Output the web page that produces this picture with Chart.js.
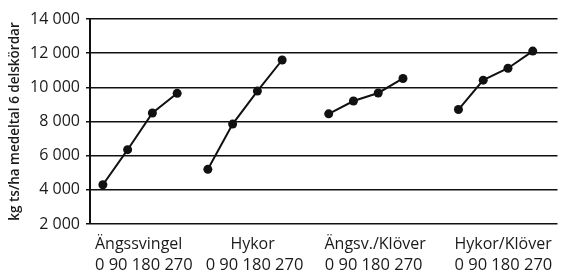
<!DOCTYPE html>
<html>
<head>
<meta charset="utf-8">
<script src="https://cdn.jsdelivr.net/npm/chart.js@4"></script>
<style>
  html, body { margin: 0; padding: 0; background: #fff; }
  #wrap { width: 562px; height: 273px; }
</style>
</head>
<body>
<div id="wrap"><canvas id="chart"></canvas></div>
<script>
// data
const categories = ['Ängssvingel', 'Hykor', 'Ängsv./Klöver', 'Hykor/Klöver'];
const doses = [0, 90, 180, 270];
const angssvingel = [4300, 6350, 8500, 9650];
const hykor = [5200, 7850, 9780, 11600];
const angsvKlover = [8450, 9200, 9670, 10520];
const hykorKlover = [8700, 10420, 11120, 12120];
const yTicks = [2000, 4000, 6000, 8000, 10000, 12000, 14000];

// layout: x in "dose steps", where each group and its labels sit
const groupStart = [0.52, 4.76, 9.64, 14.88];
const nameStart = [0.2, 5.67, 9.47, 14.72];
const doseStart = [0.2, 4.67, 9.48, 14.72];

const series = [angssvingel, hykor, angsvKlover, hykorKlover];
const font = "'Open Sans', sans-serif";

const datasets = series.map((vals, g) => ({
  label: categories[g],
  data: vals.map((v, i) => ({ x: groupStart[g] + i, y: v })),
  borderColor: '#111',
  backgroundColor: '#111',
  borderWidth: 2,
  pointRadius: 4.5,
  pointBorderWidth: 0,
  tension: 0
}));

function bottomAxis(starts, labelFn, weight, height, pad, size) {
  return {
    type: 'linear',
    position: 'bottom',
    weight,
    min: 0,
    max: 18.88,
    grid: { display: false, drawTicks: false },
    border: { display: false },
    afterBuildTicks: s => { s.ticks = starts.map(v => ({ value: v })); },
    afterFit: s => { s.paddingLeft = 0; s.paddingRight = 0; s.height = height; },
    ticks: {
      autoSkip: false,
      maxRotation: 0,
      align: 'start',
      padding: pad,
      color: '#1a1a1a',
      font: { family: font, size },
      callback: labelFn
    }
  };
}

new Chart(document.getElementById('chart'), {
  type: 'line',
  data: { datasets },
  options: {
    responsive: true,
    maintainAspectRatio: false,
    animation: false,
    layout: { padding: { top: 19, right: 0, bottom: 0, left: 0 } },
    plugins: { legend: { display: false }, tooltip: { enabled: false } },
    scales: {
      x: bottomAxis(nameStart, (v, i) => categories[i], 0, 29, 11, 16),
      xDose: bottomAxis(doseStart, () => doses.join(' '), 1, 20, 2, 16.5),
      y: {
        min: 2000,
        max: 14000,
        afterBuildTicks: s => { s.ticks = yTicks.map(v => ({ value: v })); },
        afterFit: s => { s.width = 90; s.paddingTop = 0; s.paddingBottom = 0; },
        grid: { color: '#111', lineWidth: 1.5, tickLength: 4 },
        border: { display: true, color: '#111', width: 2 },
        ticks: {
          padding: 6,
          color: '#1a1a1a',
          font: { family: font, size: 16 },
          callback: v => String(v).replace(/\B(?=(\d{3})+$)/, ' ')
        },
        title: {
          display: true,
          text: 'kg ts/ha medeltal 6 delskördar',
          color: '#1a1a1a',
          padding: { top: 7, bottom: 0 },
          font: { family: font, size: 13.5, weight: '600' }
        }
      }
    }
  }
});
</script>
</body>
</html>
